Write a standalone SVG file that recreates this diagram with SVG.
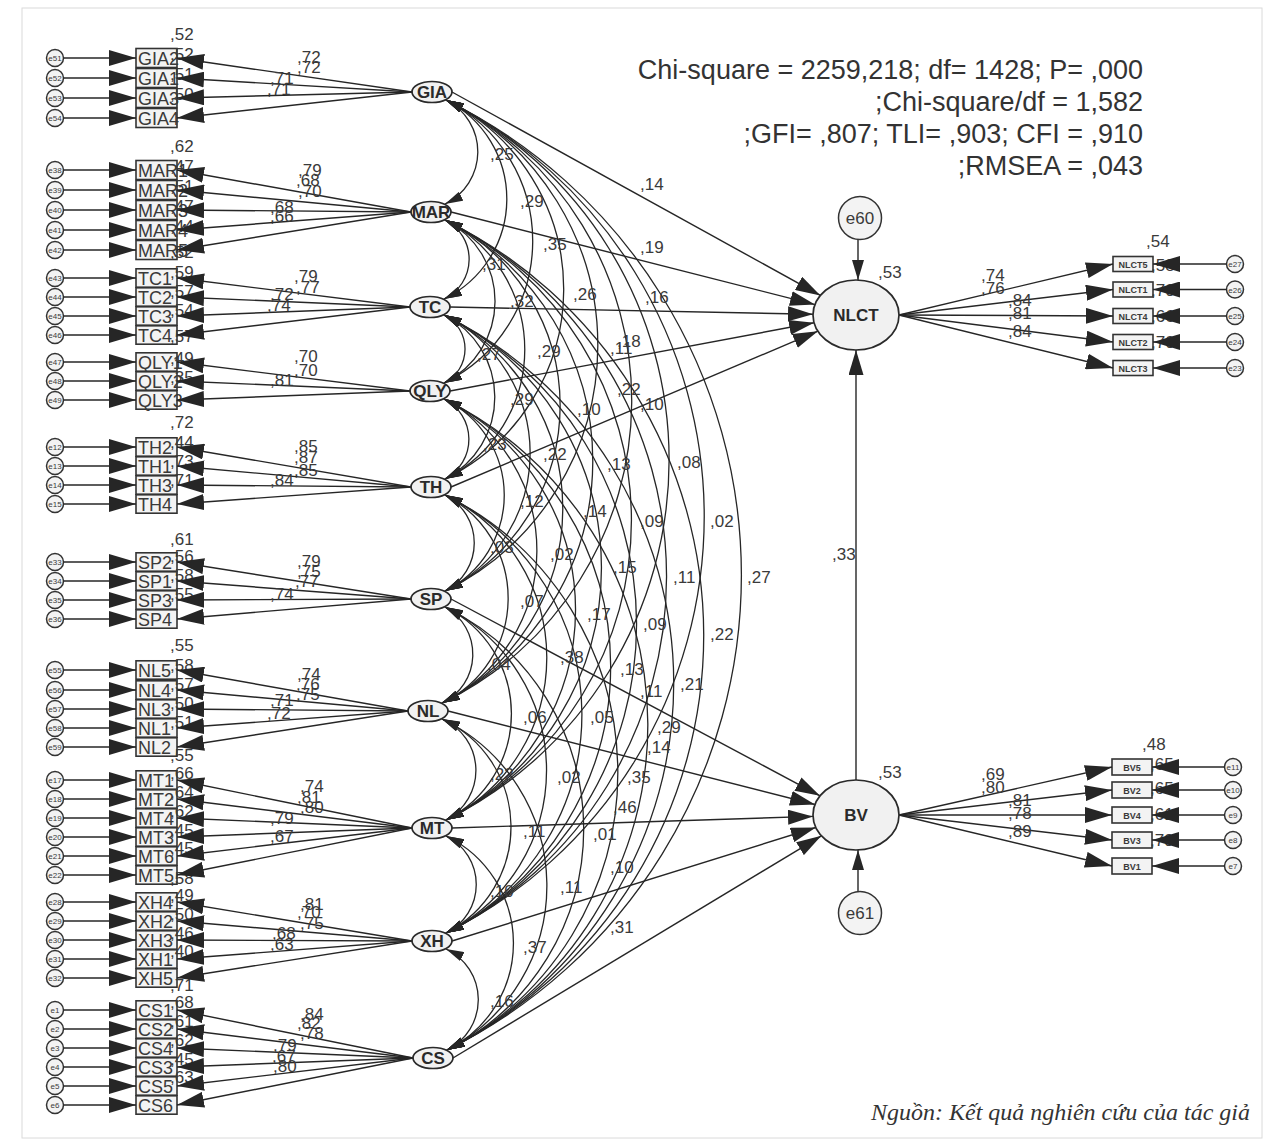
<svg xmlns="http://www.w3.org/2000/svg" width="1272" height="1145" viewBox="0 0 1272 1145">
<defs>
<style>
.c{stroke:#262626;stroke-width:1.4;fill:none}
.ca{stroke:#262626;stroke-width:1.3;fill:none;marker-start:url(#ac);marker-end:url(#ac)}
.m{stroke:#262626;stroke-width:1.4;fill:none;marker-end:url(#am)}
.p{stroke:#262626;stroke-width:1.4;fill:none;marker-end:url(#ap)}
.box{fill:#f3f3f3;stroke:#333;stroke-width:1.6}
.lat{fill:#f1f1f1;stroke:#2a2a2a;stroke-width:1.7}
.err{fill:#f3f3f3;stroke:#333;stroke-width:1.5}
text{font-family:"Liberation Sans",Arial,sans-serif;fill:#3a3a3a}
.bt{font-size:18px}
.es{font-size:8px;text-anchor:middle}
.lb{font-size:17px}
.ft{font-size:17px;font-weight:bold;text-anchor:middle;fill:#2a2a2a}
.rb{font-size:9px;font-weight:bold;text-anchor:middle}
.fit{font-size:27px;text-anchor:end;fill:#333}
.src{font-family:"Liberation Serif","DejaVu Serif",serif;font-style:italic;font-size:24px;text-anchor:end;fill:#333}
</style>
<marker id="am" viewBox="0 0 27 16" refX="27" refY="8" markerWidth="27" markerHeight="16" markerUnits="userSpaceOnUse" orient="auto"><path d="M0,0 L27,8 L0,16 z" fill="#262626"/></marker>
<marker id="ac" viewBox="0 0 18 10" refX="18" refY="5" markerWidth="18" markerHeight="10" markerUnits="userSpaceOnUse" orient="auto-start-reverse"><path d="M0,0 L18,5 L0,10 z" fill="#262626"/></marker>
<marker id="ap" viewBox="0 0 25 15" refX="25" refY="7.5" markerWidth="25" markerHeight="15" markerUnits="userSpaceOnUse" orient="auto"><path d="M0,0 L25,7.5 L0,15 z" fill="#262626"/></marker>
<marker id="ae" viewBox="0 0 20 12" refX="20" refY="6" markerWidth="20" markerHeight="12" markerUnits="userSpaceOnUse" orient="auto"><path d="M0,0 L20,6 L0,12 z" fill="#262626"/></marker>
</defs>
<rect x="0" y="0" width="1272" height="1145" fill="#ffffff"/>
<rect x="22" y="8" width="1240" height="1130" fill="none" stroke="#dadada" stroke-width="1"/>

<g id="fit">
<text class="fit" x="1143" y="79">Chi-square = 2259,218; df= 1428; P= ,000</text>
<text class="fit" x="1143" y="111">;Chi-square/df = 1,582</text>
<text class="fit" x="1143" y="143">;GFI= ,807; TLI= ,903; CFI = ,910</text>
<text class="fit" x="1143" y="175">;RMSEA = ,043</text>
</g>

<g id="errors-left">
<g id="e51"><circle class="err" cx="55" cy="58" r="8.5"/><text class="es" x="55" y="61">e51</text></g>
<g id="e52"><circle class="err" cx="55" cy="78" r="8.5"/><text class="es" x="55" y="81">e52</text></g>
<g id="e53"><circle class="err" cx="55" cy="98" r="8.5"/><text class="es" x="55" y="101">e53</text></g>
<g id="e54"><circle class="err" cx="55" cy="118" r="8.5"/><text class="es" x="55" y="121">e54</text></g>
<g id="e38"><circle class="err" cx="55" cy="170" r="8.5"/><text class="es" x="55" y="173">e38</text></g>
<g id="e39"><circle class="err" cx="55" cy="190" r="8.5"/><text class="es" x="55" y="193">e39</text></g>
<g id="e40"><circle class="err" cx="55" cy="210" r="8.5"/><text class="es" x="55" y="213">e40</text></g>
<g id="e41"><circle class="err" cx="55" cy="230" r="8.5"/><text class="es" x="55" y="233">e41</text></g>
<g id="e42"><circle class="err" cx="55" cy="250" r="8.5"/><text class="es" x="55" y="253">e42</text></g>
<g id="e43"><circle class="err" cx="55" cy="278" r="8.5"/><text class="es" x="55" y="281">e43</text></g>
<g id="e44"><circle class="err" cx="55" cy="297" r="8.5"/><text class="es" x="55" y="300">e44</text></g>
<g id="e45"><circle class="err" cx="55" cy="316" r="8.5"/><text class="es" x="55" y="319">e45</text></g>
<g id="e46"><circle class="err" cx="55" cy="335" r="8.5"/><text class="es" x="55" y="338">e46</text></g>
<g id="e47"><circle class="err" cx="55" cy="362" r="8.5"/><text class="es" x="55" y="365">e47</text></g>
<g id="e48"><circle class="err" cx="55" cy="381" r="8.5"/><text class="es" x="55" y="384">e48</text></g>
<g id="e49"><circle class="err" cx="55" cy="400" r="8.5"/><text class="es" x="55" y="403">e49</text></g>
<g id="e12"><circle class="err" cx="55" cy="447" r="8.5"/><text class="es" x="55" y="450">e12</text></g>
<g id="e13"><circle class="err" cx="55" cy="466" r="8.5"/><text class="es" x="55" y="469">e13</text></g>
<g id="e14"><circle class="err" cx="55" cy="485" r="8.5"/><text class="es" x="55" y="488">e14</text></g>
<g id="e15"><circle class="err" cx="55" cy="504" r="8.5"/><text class="es" x="55" y="507">e15</text></g>
<g id="e33"><circle class="err" cx="55" cy="562" r="8.5"/><text class="es" x="55" y="565">e33</text></g>
<g id="e34"><circle class="err" cx="55" cy="581" r="8.5"/><text class="es" x="55" y="584">e34</text></g>
<g id="e35"><circle class="err" cx="55" cy="600" r="8.5"/><text class="es" x="55" y="603">e35</text></g>
<g id="e36"><circle class="err" cx="55" cy="619" r="8.5"/><text class="es" x="55" y="622">e36</text></g>
<g id="e55"><circle class="err" cx="55" cy="670" r="8.5"/><text class="es" x="55" y="673">e55</text></g>
<g id="e56"><circle class="err" cx="55" cy="690" r="8.5"/><text class="es" x="55" y="693">e56</text></g>
<g id="e57"><circle class="err" cx="55" cy="709" r="8.5"/><text class="es" x="55" y="712">e57</text></g>
<g id="e58"><circle class="err" cx="55" cy="728" r="8.5"/><text class="es" x="55" y="731">e58</text></g>
<g id="e59"><circle class="err" cx="55" cy="747" r="8.5"/><text class="es" x="55" y="750">e59</text></g>
<g id="e17"><circle class="err" cx="55" cy="780" r="8.5"/><text class="es" x="55" y="783">e17</text></g>
<g id="e18"><circle class="err" cx="55" cy="799" r="8.5"/><text class="es" x="55" y="802">e18</text></g>
<g id="e19"><circle class="err" cx="55" cy="818" r="8.5"/><text class="es" x="55" y="821">e19</text></g>
<g id="e20"><circle class="err" cx="55" cy="837" r="8.5"/><text class="es" x="55" y="840">e20</text></g>
<g id="e21"><circle class="err" cx="55" cy="856" r="8.5"/><text class="es" x="55" y="859">e21</text></g>
<g id="e22"><circle class="err" cx="55" cy="875" r="8.5"/><text class="es" x="55" y="878">e22</text></g>
<g id="e28"><circle class="err" cx="55" cy="902" r="8.5"/><text class="es" x="55" y="905">e28</text></g>
<g id="e29"><circle class="err" cx="55" cy="921" r="8.5"/><text class="es" x="55" y="924">e29</text></g>
<g id="e30"><circle class="err" cx="55" cy="940" r="8.5"/><text class="es" x="55" y="943">e30</text></g>
<g id="e31"><circle class="err" cx="55" cy="959" r="8.5"/><text class="es" x="55" y="962">e31</text></g>
<g id="e32"><circle class="err" cx="55" cy="978" r="8.5"/><text class="es" x="55" y="981">e32</text></g>
<g id="e1"><circle class="err" cx="55" cy="1010" r="8.5"/><text class="es" x="55" y="1013">e1</text></g>
<g id="e2"><circle class="err" cx="55" cy="1029" r="8.5"/><text class="es" x="55" y="1032">e2</text></g>
<g id="e3"><circle class="err" cx="55" cy="1048" r="8.5"/><text class="es" x="55" y="1051">e3</text></g>
<g id="e4"><circle class="err" cx="55" cy="1067" r="8.5"/><text class="es" x="55" y="1070">e4</text></g>
<g id="e5"><circle class="err" cx="55" cy="1086" r="8.5"/><text class="es" x="55" y="1089">e5</text></g>
<g id="e6"><circle class="err" cx="55" cy="1105" r="8.5"/><text class="es" x="55" y="1108">e6</text></g>
</g>

<g id="indicators-left">
<g id="GIA2"><rect class="box" x="136" y="48.5" width="41" height="19"/><text class="bt" x="138" y="64.5">GIA2</text><text class="lb" x="170" y="40">,52</text></g>
<g id="GIA1"><rect class="box" x="136" y="68.5" width="41" height="19"/><text class="bt" x="138" y="84.5">GIA1</text><text class="lb" x="170" y="60">,52</text></g>
<g id="GIA3"><rect class="box" x="136" y="88.5" width="41" height="19"/><text class="bt" x="138" y="104.5">GIA3</text><text class="lb" x="170" y="80">,51</text></g>
<g id="GIA4"><rect class="box" x="136" y="108.5" width="41" height="19"/><text class="bt" x="138" y="124.5">GIA4</text><text class="lb" x="170" y="100">,50</text></g>

<g id="MAR1"><rect class="box" x="136" y="160.5" width="41" height="19"/><text class="bt" x="138" y="176.5">MAR1</text><text class="lb" x="170" y="152">,62</text></g>
<g id="MAR2"><rect class="box" x="136" y="180.5" width="41" height="19"/><text class="bt" x="138" y="196.5">MAR2</text><text class="lb" x="170" y="172">,47</text></g>
<g id="MAR3"><rect class="box" x="136" y="200.5" width="41" height="19"/><text class="bt" x="138" y="216.5">MAR3</text><text class="lb" x="170" y="192">,51</text></g>
<g id="MAR4"><rect class="box" x="136" y="220.5" width="41" height="19"/><text class="bt" x="138" y="236.5">MAR4</text><text class="lb" x="170" y="212">,47</text></g>
<g id="MAR5"><rect class="box" x="136" y="240.5" width="41" height="19"/><text class="bt" x="138" y="256.5">MAR5</text><text class="lb" x="170" y="232">,44</text></g>

<g id="TC1"><rect class="box" x="136" y="268.8" width="41" height="18.4"/><text class="bt" x="138" y="284.5">TC1</text><text class="lb" x="170" y="258">,52</text></g>
<g id="TC2"><rect class="box" x="136" y="287.8" width="41" height="18.4"/><text class="bt" x="138" y="303.5">TC2</text><text class="lb" x="170" y="278">,59</text></g>
<g id="TC3"><rect class="box" x="136" y="306.8" width="41" height="18.4"/><text class="bt" x="138" y="322.5">TC3</text><text class="lb" x="170" y="297">,57</text></g>
<g id="TC4"><rect class="box" x="136" y="325.8" width="41" height="18.4"/><text class="bt" x="138" y="341.5">TC4</text><text class="lb" x="170" y="316">,54</text></g>

<g id="QLY1"><rect class="box" x="136" y="352.8" width="41" height="18.4"/><text class="bt" x="138" y="368.5">QLY1</text><text class="lb" x="170" y="342">,57</text></g>
<g id="QLY2"><rect class="box" x="136" y="371.8" width="41" height="18.4"/><text class="bt" x="138" y="387.5">QLY2</text><text class="lb" x="170" y="364">,49</text></g>
<g id="QLY3"><rect class="box" x="136" y="390.8" width="41" height="18.4"/><text class="bt" x="138" y="406.5">QLY3</text><text class="lb" x="170" y="383">,35</text></g>

<g id="TH2"><rect class="box" x="136" y="437.8" width="41" height="18.4"/><text class="bt" x="138" y="453.5">TH2</text><text class="lb" x="170" y="428">,72</text></g>
<g id="TH1"><rect class="box" x="136" y="456.8" width="41" height="18.4"/><text class="bt" x="138" y="472.5">TH1</text><text class="lb" x="170" y="448">,44</text></g>
<g id="TH3"><rect class="box" x="136" y="475.8" width="41" height="18.4"/><text class="bt" x="138" y="491.5">TH3</text><text class="lb" x="170" y="467">,73</text></g>
<g id="TH4"><rect class="box" x="136" y="494.8" width="41" height="18.4"/><text class="bt" x="138" y="510.5">TH4</text><text class="lb" x="170" y="486">,71</text></g>

<g id="SP2"><rect class="box" x="136" y="552.8" width="41" height="18.4"/><text class="bt" x="138" y="568.5">SP2</text><text class="lb" x="170" y="545">,61</text></g>
<g id="SP1"><rect class="box" x="136" y="571.8" width="41" height="18.4"/><text class="bt" x="138" y="587.5">SP1</text><text class="lb" x="170" y="562">,56</text></g>
<g id="SP3"><rect class="box" x="136" y="590.8" width="41" height="18.4"/><text class="bt" x="138" y="606.5">SP3</text><text class="lb" x="170" y="581">,58</text></g>
<g id="SP4"><rect class="box" x="136" y="609.8" width="41" height="18.4"/><text class="bt" x="138" y="625.5">SP4</text><text class="lb" x="170" y="600">,55</text></g>

<g id="NL5"><rect class="box" x="136" y="660.8" width="41" height="18.4"/><text class="bt" x="138" y="676.5">NL5</text><text class="lb" x="170" y="651">,55</text></g>
<g id="NL4"><rect class="box" x="136" y="680.8" width="41" height="18.4"/><text class="bt" x="138" y="696.5">NL4</text><text class="lb" x="170" y="671">,58</text></g>
<g id="NL3"><rect class="box" x="136" y="699.8" width="41" height="18.4"/><text class="bt" x="138" y="715.5">NL3</text><text class="lb" x="170" y="690">,57</text></g>
<g id="NL1"><rect class="box" x="136" y="718.8" width="41" height="18.4"/><text class="bt" x="138" y="734.5">NL1</text><text class="lb" x="170" y="709">,50</text></g>
<g id="NL2"><rect class="box" x="136" y="737.8" width="41" height="18.4"/><text class="bt" x="138" y="753.5">NL2</text><text class="lb" x="170" y="728">,51</text></g>

<g id="MT1"><rect class="box" x="136" y="770.8" width="41" height="18.4"/><text class="bt" x="138" y="786.5">MT1</text><text class="lb" x="170" y="761">,55</text></g>
<g id="MT2"><rect class="box" x="136" y="789.8" width="41" height="18.4"/><text class="bt" x="138" y="805.5">MT2</text><text class="lb" x="170" y="779">,66</text></g>
<g id="MT4"><rect class="box" x="136" y="808.8" width="41" height="18.4"/><text class="bt" x="138" y="824.5">MT4</text><text class="lb" x="170" y="798">,64</text></g>
<g id="MT3"><rect class="box" x="136" y="827.8" width="41" height="18.4"/><text class="bt" x="138" y="843.5">MT3</text><text class="lb" x="170" y="817">,62</text></g>
<g id="MT6"><rect class="box" x="136" y="846.8" width="41" height="18.4"/><text class="bt" x="138" y="862.5">MT6</text><text class="lb" x="170" y="836">,45</text></g>
<g id="MT5"><rect class="box" x="136" y="865.8" width="41" height="18.4"/><text class="bt" x="138" y="881.5">MT5</text><text class="lb" x="170" y="854">,45</text></g>

<g id="XH4"><rect class="box" x="136" y="892.8" width="41" height="18.4"/><text class="bt" x="138" y="908.5">XH4</text><text class="lb" x="170" y="884">,58</text></g>
<g id="XH2"><rect class="box" x="136" y="911.8" width="41" height="18.4"/><text class="bt" x="138" y="927.5">XH2</text><text class="lb" x="170" y="901">,49</text></g>
<g id="XH3"><rect class="box" x="136" y="930.8" width="41" height="18.4"/><text class="bt" x="138" y="946.5">XH3</text><text class="lb" x="170" y="920">,50</text></g>
<g id="XH1"><rect class="box" x="136" y="949.8" width="41" height="18.4"/><text class="bt" x="138" y="965.5">XH1</text><text class="lb" x="170" y="939">,46</text></g>
<g id="XH5"><rect class="box" x="136" y="968.8" width="41" height="18.4"/><text class="bt" x="138" y="984.5">XH5</text><text class="lb" x="170" y="957">,40</text></g>

<g id="CS1"><rect class="box" x="136" y="1000.8" width="41" height="18.4"/><text class="bt" x="138" y="1016.5">CS1</text><text class="lb" x="170" y="991">,71</text></g>
<g id="CS2"><rect class="box" x="136" y="1019.8" width="41" height="18.4"/><text class="bt" x="138" y="1035.5">CS2</text><text class="lb" x="170" y="1008">,68</text></g>
<g id="CS4"><rect class="box" x="136" y="1038.8" width="41" height="18.4"/><text class="bt" x="138" y="1054.5">CS4</text><text class="lb" x="170" y="1027">,61</text></g>
<g id="CS3"><rect class="box" x="136" y="1057.8" width="41" height="18.4"/><text class="bt" x="138" y="1073.5">CS3</text><text class="lb" x="170" y="1046">,62</text></g>
<g id="CS5"><rect class="box" x="136" y="1076.8" width="41" height="18.4"/><text class="bt" x="138" y="1092.5">CS5</text><text class="lb" x="170" y="1065">,45</text></g>
<g id="CS6"><rect class="box" x="136" y="1095.8" width="41" height="18.4"/><text class="bt" x="138" y="1111.5">CS6</text><text class="lb" x="170" y="1083">,63</text></g>
</g>

<g id="indicators-right">
<g id="NLCT5"><rect class="box" x="1113" y="256.5" width="40" height="15"/><text class="rb" x="1133" y="267.5">NLCT5</text><text class="lb" x="1146" y="247">,54</text></g>
<g id="NLCT1"><rect class="box" x="1113" y="282" width="40" height="15"/><text class="rb" x="1133" y="293">NLCT1</text><text class="lb" x="1151" y="271">,58</text></g>
<g id="NLCT4"><rect class="box" x="1113" y="308.5" width="40" height="15"/><text class="rb" x="1133" y="319.5">NLCT4</text><text class="lb" x="1151" y="296">,70</text></g>
<g id="NLCT2"><rect class="box" x="1113" y="334.5" width="40" height="15"/><text class="rb" x="1133" y="345.5">NLCT2</text><text class="lb" x="1151" y="322">,66</text></g>
<g id="NLCT3"><rect class="box" x="1113" y="360.5" width="40" height="15"/><text class="rb" x="1133" y="371.5">NLCT3</text><text class="lb" x="1151" y="348">,70</text></g>
<g id="BV5"><rect class="box" x="1112" y="759" width="40" height="16"/><text class="rb" x="1132" y="770.5">BV5</text><text class="lb" x="1142" y="750">,48</text></g>
<g id="BV2"><rect class="box" x="1112" y="782" width="40" height="16"/><text class="rb" x="1132" y="793.5">BV2</text><text class="lb" x="1150" y="770">,65</text></g>
<g id="BV4"><rect class="box" x="1112" y="807" width="40" height="16"/><text class="rb" x="1132" y="818.5">BV4</text><text class="lb" x="1150" y="794">,65</text></g>
<g id="BV3"><rect class="box" x="1112" y="832" width="40" height="16"/><text class="rb" x="1132" y="843.5">BV3</text><text class="lb" x="1150" y="820">,61</text></g>
<g id="BV1"><rect class="box" x="1112" y="858" width="40" height="16"/><text class="rb" x="1132" y="869.5">BV1</text><text class="lb" x="1150" y="846">,79</text></g>
</g>

<g id="errors-right">
<g id="e27"><circle class="err" cx="1235" cy="264" r="8.5"/><text class="es" x="1235" y="267">e27</text></g>
<g id="e26"><circle class="err" cx="1235" cy="289.5" r="8.5"/><text class="es" x="1235" y="292.5">e26</text></g>
<g id="e25"><circle class="err" cx="1235" cy="316" r="8.5"/><text class="es" x="1235" y="319">e25</text></g>
<g id="e24"><circle class="err" cx="1235" cy="342" r="8.5"/><text class="es" x="1235" y="345">e24</text></g>
<g id="e23"><circle class="err" cx="1235" cy="368" r="8.5"/><text class="es" x="1235" y="371">e23</text></g>
<g id="e11"><circle class="err" cx="1233" cy="767" r="8.5"/><text class="es" x="1233" y="770">e11</text></g>
<g id="e10"><circle class="err" cx="1233" cy="790" r="8.5"/><text class="es" x="1233" y="793">e10</text></g>
<g id="e9"><circle class="err" cx="1233" cy="815" r="8.5"/><text class="es" x="1233" y="818">e9</text></g>
<g id="e8"><circle class="err" cx="1233" cy="840" r="8.5"/><text class="es" x="1233" y="843">e8</text></g>
<g id="e7"><circle class="err" cx="1233" cy="866" r="8.5"/><text class="es" x="1233" y="869">e7</text></g>
</g>

<g id="connectors">
<path class="m" d="M63.5,58 H136"/><path class="m" d="M63.5,78 H136"/><path class="m" d="M63.5,98 H136"/><path class="m" d="M63.5,118 H136"/>
<path class="m" d="M63.5,170 H136"/><path class="m" d="M63.5,190 H136"/><path class="m" d="M63.5,210 H136"/><path class="m" d="M63.5,230 H136"/><path class="m" d="M63.5,250 H136"/>
<path class="m" d="M63.5,278 H136"/><path class="m" d="M63.5,297 H136"/><path class="m" d="M63.5,316 H136"/><path class="m" d="M63.5,335 H136"/>
<path class="m" d="M63.5,362 H136"/><path class="m" d="M63.5,381 H136"/><path class="m" d="M63.5,400 H136"/>
<path class="m" d="M63.5,447 H136"/><path class="m" d="M63.5,466 H136"/><path class="m" d="M63.5,485 H136"/><path class="m" d="M63.5,504 H136"/>
<path class="m" d="M63.5,562 H136"/><path class="m" d="M63.5,581 H136"/><path class="m" d="M63.5,600 H136"/><path class="m" d="M63.5,619 H136"/>
<path class="m" d="M63.5,670 H136"/><path class="m" d="M63.5,690 H136"/><path class="m" d="M63.5,709 H136"/><path class="m" d="M63.5,728 H136"/><path class="m" d="M63.5,747 H136"/>
<path class="m" d="M63.5,780 H136"/><path class="m" d="M63.5,799 H136"/><path class="m" d="M63.5,818 H136"/><path class="m" d="M63.5,837 H136"/><path class="m" d="M63.5,856 H136"/><path class="m" d="M63.5,875 H136"/>
<path class="m" d="M63.5,902 H136"/><path class="m" d="M63.5,921 H136"/><path class="m" d="M63.5,940 H136"/><path class="m" d="M63.5,959 H136"/><path class="m" d="M63.5,978 H136"/>
<path class="m" d="M63.5,1010 H136"/><path class="m" d="M63.5,1029 H136"/><path class="m" d="M63.5,1048 H136"/><path class="m" d="M63.5,1067 H136"/><path class="m" d="M63.5,1086 H136"/><path class="m" d="M63.5,1105 H136"/>

<path class="m" d="M412,92 L177,58"/><path class="m" d="M412,92 L177,78"/><path class="m" d="M412,92 L177,98"/><path class="m" d="M412,92 L177,118"/>
<path class="m" d="M411,212 L177,170"/><path class="m" d="M411,212 L177,190"/><path class="m" d="M411,212 L177,210"/><path class="m" d="M411,212 L177,230"/><path class="m" d="M411,212 L177,250"/>
<path class="m" d="M410,307 L177,278"/><path class="m" d="M410,307 L177,297"/><path class="m" d="M410,307 L177,316"/><path class="m" d="M410,307 L177,335"/>
<path class="m" d="M410,391 L177,362"/><path class="m" d="M410,391 L177,381"/><path class="m" d="M410,391 L177,400"/>
<path class="m" d="M411,487 L177,447"/><path class="m" d="M411,487 L177,466"/><path class="m" d="M411,487 L177,485"/><path class="m" d="M411,487 L177,504"/>
<path class="m" d="M411,599 L177,562"/><path class="m" d="M411,599 L177,581"/><path class="m" d="M411,599 L177,600"/><path class="m" d="M411,599 L177,619"/>
<path class="m" d="M408,711 L177,670"/><path class="m" d="M408,711 L177,690"/><path class="m" d="M408,711 L177,709"/><path class="m" d="M408,711 L177,728"/><path class="m" d="M408,711 L177,747"/>
<path class="m" d="M412,828 L177,780"/><path class="m" d="M412,828 L177,799"/><path class="m" d="M412,828 L177,818"/><path class="m" d="M412,828 L177,837"/><path class="m" d="M412,828 L177,856"/><path class="m" d="M412,828 L177,875"/>
<path class="m" d="M412,941 L177,902"/><path class="m" d="M412,941 L177,921"/><path class="m" d="M412,941 L177,940"/><path class="m" d="M412,941 L177,959"/><path class="m" d="M412,941 L177,978"/>
<path class="m" d="M413,1058 L177,1010"/><path class="m" d="M413,1058 L177,1029"/><path class="m" d="M413,1058 L177,1048"/><path class="m" d="M413,1058 L177,1067"/><path class="m" d="M413,1058 L177,1086"/><path class="m" d="M413,1058 L177,1105"/>

<path class="ca" d="M446,100 A58,58 0 0 1 445,204"/>
<path class="ca" d="M446,100 A111,111 0 0 1 444,299"/>
<path class="ca" d="M446,100 A158,158 0 0 1 444,383"/>
<path class="ca" d="M446,100 A211,211 0 0 1 445,479"/>
<path class="ca" d="M446,100 A274,274 0 0 1 445,591"/>
<path class="ca" d="M446,100 A336,336 0 0 1 442,703"/>
<path class="ca" d="M446,100 A402,402 0 0 1 446,820"/>
<path class="ca" d="M446,100 A465,465 0 0 1 446,933"/>
<path class="ca" d="M446,100 A530,530 0 0 1 447,1050"/>
<path class="ca" d="M445,220 A44,44 0 0 1 444,299"/>
<path class="ca" d="M445,220 A91,91 0 0 1 444,383"/>
<path class="ca" d="M445,220 A145,145 0 0 1 445,479"/>
<path class="ca" d="M445,220 A207,207 0 0 1 445,591"/>
<path class="ca" d="M445,220 A270,270 0 0 1 442,703"/>
<path class="ca" d="M445,220 A335,335 0 0 1 446,820"/>
<path class="ca" d="M445,220 A398,398 0 0 1 446,933"/>
<path class="ca" d="M445,220 A463,463 0 0 1 447,1050"/>
<path class="ca" d="M444,315 A38,38 0 0 1 444,383"/>
<path class="ca" d="M444,315 A92,92 0 0 1 445,479"/>
<path class="ca" d="M444,315 A154,154 0 0 1 445,591"/>
<path class="ca" d="M444,315 A217,217 0 0 1 442,703"/>
<path class="ca" d="M444,315 A282,282 0 0 1 446,820"/>
<path class="ca" d="M444,315 A345,345 0 0 1 446,933"/>
<path class="ca" d="M444,315 A410,410 0 0 1 447,1050"/>
<path class="ca" d="M444,399 A45,45 0 0 1 445,479"/>
<path class="ca" d="M444,399 A107,107 0 0 1 445,591"/>
<path class="ca" d="M444,399 A170,170 0 0 1 442,703"/>
<path class="ca" d="M444,399 A235,235 0 0 1 446,820"/>
<path class="ca" d="M444,399 A298,298 0 0 1 446,933"/>
<path class="ca" d="M444,399 A363,363 0 0 1 447,1050"/>
<path class="ca" d="M445,495 A54,54 0 0 1 445,591"/>
<path class="ca" d="M445,495 A116,116 0 0 1 442,703"/>
<path class="ca" d="M445,495 A181,181 0 0 1 446,820"/>
<path class="ca" d="M445,495 A244,244 0 0 1 446,933"/>
<path class="ca" d="M445,495 A310,310 0 0 1 447,1050"/>
<path class="ca" d="M445,607 A54,54 0 0 1 442,703"/>
<path class="ca" d="M445,607 A119,119 0 0 1 446,820"/>
<path class="ca" d="M445,607 A182,182 0 0 1 446,933"/>
<path class="ca" d="M445,607 A247,247 0 0 1 447,1050"/>
<path class="ca" d="M442,719 A56,56 0 0 1 446,820"/>
<path class="ca" d="M442,719 A119,119 0 0 1 446,933"/>
<path class="ca" d="M442,719 A185,185 0 0 1 447,1050"/>
<path class="ca" d="M446,836 A54,54 0 0 1 446,933"/>
<path class="ca" d="M446,836 A119,119 0 0 1 447,1050"/>
<path class="ca" d="M446,949 A56,56 0 0 1 447,1050"/>

<path class="p" d="M452,92 L820.4,295.4"/>
<path class="p" d="M451,212 L815,304.6"/>
<path class="p" d="M450,307 L813,314.2"/>
<path class="p" d="M450,391 L814.1,322.8"/>
<path class="p" d="M451,487 L817.9,331.2"/>
<path class="p" d="M451,599 L820,795.8"/>
<path class="p" d="M448,711 L815,804.5"/>
<path class="p" d="M452,828 L813,816.4"/>
<path class="p" d="M452,941 L815.8,827.5"/>
<path class="p" d="M453,1058 L821.4,835.8"/>
<path class="p" d="M856,780 L856,350"/>
<path class="c" d="M858,240 L858,280" marker-end="url(#ae)"/>
<path class="c" d="M858,891 L858,850" marker-end="url(#ae)"/>

<path class="m" d="M899,315 L1113,264"/><path class="m" d="M899,315 L1113,289.5"/><path class="m" d="M899,315 L1113,316"/><path class="m" d="M899,315 L1113,342"/><path class="m" d="M899,315 L1113,368"/>
<path class="m" d="M899,815 L1112,767"/><path class="m" d="M899,815 L1112,790"/><path class="m" d="M899,815 L1112,815"/><path class="m" d="M899,815 L1112,840"/><path class="m" d="M899,815 L1112,866"/>
<path class="m" d="M1226.5,264 H1153"/><path class="m" d="M1226.5,289.5 H1153"/><path class="m" d="M1226.5,316 H1153"/><path class="m" d="M1226.5,342 H1153"/><path class="m" d="M1226.5,368 H1153"/>
<path class="m" d="M1224.5,767 H1152"/><path class="m" d="M1224.5,790 H1152"/><path class="m" d="M1224.5,815 H1152"/><path class="m" d="M1224.5,840 H1152"/><path class="m" d="M1224.5,866 H1152"/>
</g>

<g id="GIA"><ellipse class="lat" cx="432" cy="92" rx="20" ry="10.5"/><text class="ft" x="432" y="98">GIA</text></g>
<g id="MAR"><ellipse class="lat" cx="431" cy="212" rx="20" ry="10.5"/><text class="ft" x="431" y="218">MAR</text></g>
<g id="TC"><ellipse class="lat" cx="430" cy="307" rx="20" ry="10.5"/><text class="ft" x="430" y="313">TC</text></g>
<g id="QLY"><ellipse class="lat" cx="430" cy="391" rx="20" ry="10.5"/><text class="ft" x="430" y="397">QLY</text></g>
<g id="TH"><ellipse class="lat" cx="431" cy="487" rx="20" ry="10.5"/><text class="ft" x="431" y="493">TH</text></g>
<g id="SP"><ellipse class="lat" cx="431" cy="599" rx="20" ry="10.5"/><text class="ft" x="431" y="605">SP</text></g>
<g id="NL"><ellipse class="lat" cx="428" cy="711" rx="20" ry="10.5"/><text class="ft" x="428" y="717">NL</text></g>
<g id="MT"><ellipse class="lat" cx="432" cy="828" rx="20" ry="10.5"/><text class="ft" x="432" y="834">MT</text></g>
<g id="XH"><ellipse class="lat" cx="432" cy="941" rx="20" ry="10.5"/><text class="ft" x="432" y="947">XH</text></g>
<g id="CS"><ellipse class="lat" cx="433" cy="1058" rx="20" ry="10.5"/><text class="ft" x="433" y="1064">CS</text></g>
<g id="NLCT"><ellipse class="lat" cx="856" cy="315" rx="43" ry="35"/><text class="ft" x="856" y="321">NLCT</text><text class="lb" x="878" y="278">,53</text></g>
<g id="BV"><ellipse class="lat" cx="856" cy="815" rx="43" ry="35"/><text class="ft" x="856" y="821">BV</text><text class="lb" x="878" y="778">,53</text></g>
<g id="e60"><circle class="err" cx="860" cy="218" r="21.5"/><text x="860" y="224" font-size="17" text-anchor="middle">e60</text></g>
<g id="e61"><circle class="err" cx="860" cy="913" r="21.5"/><text x="860" y="919" font-size="17" text-anchor="middle">e61</text></g>

<g id="edge-labels">
<text class="lb" x="297" y="63">,72</text><text class="lb" x="297" y="73">,72</text><text class="lb" x="270" y="84">,71</text><text class="lb" x="267" y="95">,71</text>
<text class="lb" x="298" y="176">,79</text><text class="lb" x="296" y="186">,68</text><text class="lb" x="298" y="197">,70</text><text class="lb" x="270" y="213">,68</text><text class="lb" x="270" y="222">,66</text>
<text class="lb" x="294" y="282">,79</text><text class="lb" x="296" y="293">,77</text><text class="lb" x="270" y="300">,72</text><text class="lb" x="267" y="311">,74</text>
<text class="lb" x="294" y="362">,70</text><text class="lb" x="294" y="376">,70</text><text class="lb" x="270" y="386">,81</text>
<text class="lb" x="294" y="452">,85</text><text class="lb" x="294" y="463">,87</text><text class="lb" x="294" y="476">,85</text><text class="lb" x="270" y="486">,84</text>
<text class="lb" x="297" y="567">,79</text><text class="lb" x="297" y="577">,75</text><text class="lb" x="295" y="587">,77</text><text class="lb" x="270" y="600">,74</text>
<text class="lb" x="297" y="680">,74</text><text class="lb" x="296" y="690">,76</text><text class="lb" x="296" y="700">,75</text><text class="lb" x="270" y="706">,71</text><text class="lb" x="267" y="719">,72</text>
<text class="lb" x="300" y="792">,74</text><text class="lb" x="297" y="803">,81</text><text class="lb" x="300" y="813">,80</text><text class="lb" x="270" y="824">,79</text><text class="lb" x="270" y="842">,67</text>
<text class="lb" x="300" y="910">,81</text><text class="lb" x="297" y="918">,70</text><text class="lb" x="300" y="929">,75</text><text class="lb" x="272" y="939">,68</text><text class="lb" x="270" y="950">,63</text>
<text class="lb" x="300" y="1020">,84</text><text class="lb" x="297" y="1029">,82</text><text class="lb" x="300" y="1039">,78</text><text class="lb" x="273" y="1051">,79</text><text class="lb" x="272" y="1062">,67</text><text class="lb" x="273" y="1072">,80</text>
<text class="lb" x="981" y="281">,74</text><text class="lb" x="981" y="294">,76</text><text class="lb" x="1008" y="306">,84</text><text class="lb" x="1008" y="319">,81</text><text class="lb" x="1008" y="337">,84</text>
<text class="lb" x="981" y="780">,69</text><text class="lb" x="981" y="793">,80</text><text class="lb" x="1008" y="806">,81</text><text class="lb" x="1008" y="819">,78</text><text class="lb" x="1008" y="837">,89</text>
<text class="lb" x="640" y="190">,14</text>
<text class="lb" x="640" y="253">,19</text>
<text class="lb" x="645" y="303">,16</text>
<text class="lb" x="617" y="347">,18</text>
<text class="lb" x="640" y="410">,10</text>
<text class="lb" x="560" y="663">,38</text>
<text class="lb" x="627" y="783">,35</text>
<text class="lb" x="523" y="837">,11</text>
<text class="lb" x="610" y="873">,10</text>
<text class="lb" x="610" y="933">,31</text>
<text class="lb" x="832" y="560">,33</text>
<text class="lb" x="490" y="160">,25</text>
<text class="lb" x="520" y="207">,29</text>
<text class="lb" x="543" y="250">,35</text>
<text class="lb" x="482" y="270">,31</text>
<text class="lb" x="573" y="300">,26</text>
<text class="lb" x="510" y="307">,32</text>
<text class="lb" x="477" y="360">,27</text>
<text class="lb" x="537" y="357">,29</text>
<text class="lb" x="610" y="354">,11</text>
<text class="lb" x="510" y="405">,29</text>
<text class="lb" x="577" y="415">,10</text>
<text class="lb" x="617" y="395">,22</text>
<text class="lb" x="483" y="450">,23</text>
<text class="lb" x="543" y="460">,22</text>
<text class="lb" x="607" y="470">,13</text>
<text class="lb" x="677" y="468">,08</text>
<text class="lb" x="520" y="507">,12</text>
<text class="lb" x="583" y="517">,14</text>
<text class="lb" x="640" y="527">,09</text>
<text class="lb" x="710" y="527">,02</text>
<text class="lb" x="490" y="553">,03</text>
<text class="lb" x="550" y="560">,02</text>
<text class="lb" x="613" y="573">,15</text>
<text class="lb" x="673" y="583">,11</text>
<text class="lb" x="747" y="583">,27</text>
<text class="lb" x="520" y="607">,07</text>
<text class="lb" x="587" y="620">,17</text>
<text class="lb" x="643" y="630">,09</text>
<text class="lb" x="710" y="640">,22</text>
<text class="lb" x="487" y="670">,04</text>
<text class="lb" x="620" y="675">,13</text>
<text class="lb" x="680" y="690">,21</text>
<text class="lb" x="640" y="697">,11</text>
<text class="lb" x="523" y="723">,06</text>
<text class="lb" x="590" y="723">,05</text>
<text class="lb" x="657" y="733">,29</text>
<text class="lb" x="647" y="753">,14</text>
<text class="lb" x="490" y="780">,22</text>
<text class="lb" x="557" y="783">,02</text>
<text class="lb" x="613" y="813">,46</text>
<text class="lb" x="593" y="840">,01</text>
<text class="lb" x="490" y="897">,10</text>
<text class="lb" x="560" y="893">,11</text>
<text class="lb" x="523" y="953">,37</text>
<text class="lb" x="490" y="1007">,16</text>
</g>

<g id="source">
<text class="src" x="1250" y="1120">Nguồn: Kết quả nghiên cứu của tác giả</text>
</g>
</svg>
